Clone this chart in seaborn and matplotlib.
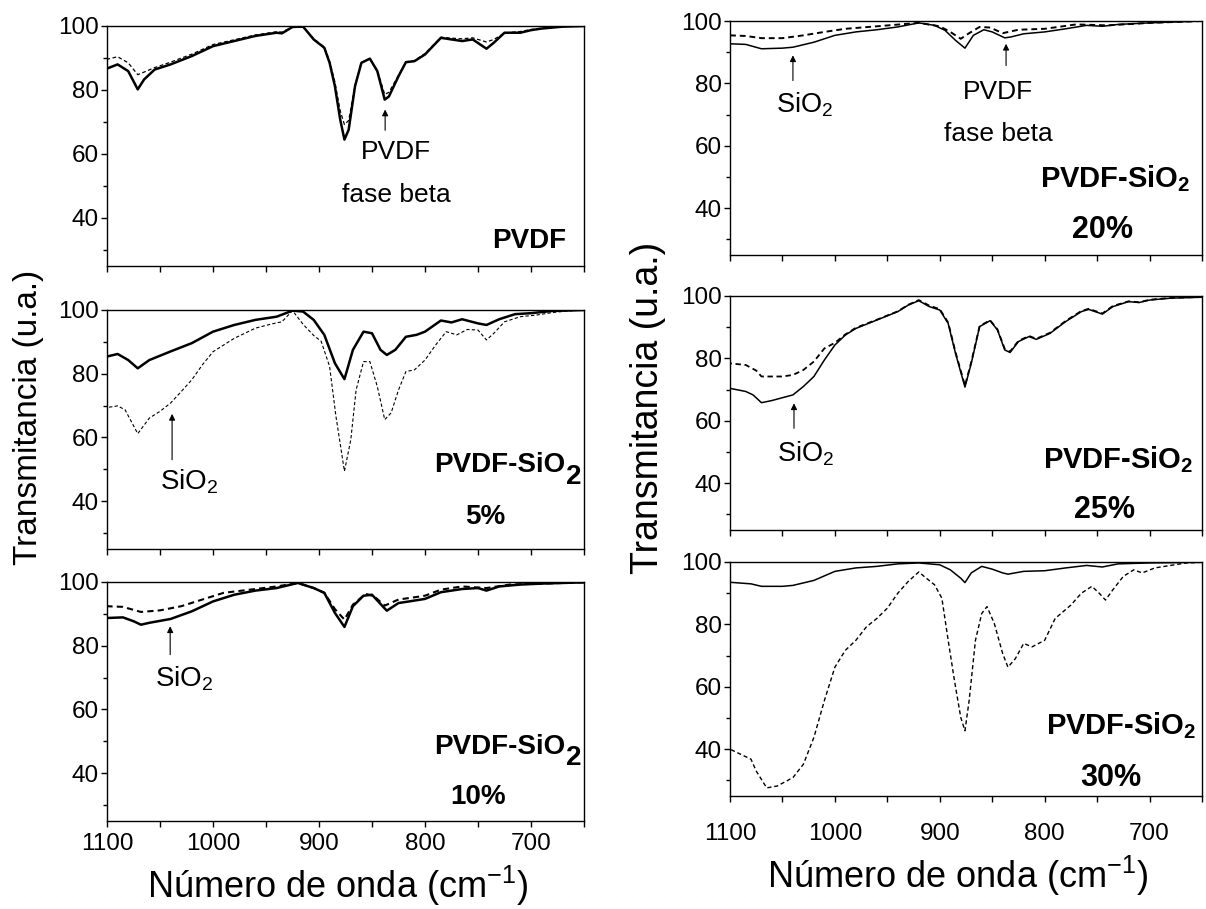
import matplotlib
matplotlib.use("Agg")
import matplotlib.pyplot as plt
import seaborn as sns
import pandas as pd
from matplotlib import font_manager
from matplotlib.ticker import MultipleLocator

# ---------------- data ----------------
pvdf_wn = [1100, 1090, 1080, 1071, 1065, 1055, 1040, 1020, 1000, 980, 960, 940, 935, 925, 915, 905,
           895, 890, 885, 880, 876, 872, 866, 860, 852, 845, 838, 834, 825, 818, 810, 800, 785, 775,
           765, 755, 742, 735, 725, 710, 700, 690, 670, 650]
pvdf_solid = [86.7, 88.0, 85.9, 80.2, 83.3, 86.4, 88.0, 90.6, 93.7, 95.3, 96.9, 97.9, 97.7, 99.7, 99.8,
              95.8, 93.2, 88.5, 81.2, 70.8, 64.5, 67.6, 81.2, 88.5, 89.8, 85.9, 77.0, 78.0, 84.3, 88.7,
              89.0, 91.1, 96.3, 95.8, 95.3, 95.8, 92.9, 94.8, 97.9, 97.9, 98.7, 99.2, 99.8, 100.0]
pvdf_dash = [89.6, 90.4, 88.5, 84.8, 85.6, 87.0, 88.7, 91.2, 94.2, 95.7, 97.2, 98.2, 98.1, 99.7, 99.8,
             96.0, 93.4, 89.0, 82.5, 73.5, 69.2, 70.5, 81.5, 88.6, 89.8, 86.2, 78.6, 79.3, 84.6, 88.8,
             89.2, 91.4, 96.5, 96.2, 96.0, 96.3, 95.0, 95.8, 97.8, 98.3, 98.9, 99.3, 99.8, 100.0]

p5_wn_solid = [1100, 1090, 1080, 1071, 1060, 1040, 1020, 1000, 980, 960, 940, 925, 915, 905, 895, 885,
               876, 868, 858, 850, 842, 836, 828, 818, 808, 800, 785, 775, 765, 750, 742, 730, 715,
               700, 680, 650]
p5_solid = [85.4, 86.2, 84.3, 81.7, 84.3, 87.0, 89.6, 93.2, 95.3, 96.9, 97.9, 99.8, 99.5, 96.9, 92.2,
            83.3, 78.3, 87.5, 93.2, 92.7, 87.5, 85.9, 87.5, 91.6, 92.2, 93.2, 96.7, 96.1, 97.1, 95.8,
            95.3, 97.1, 98.7, 99.0, 99.7, 100.0]
p5_wn_dash = [1100, 1090, 1083, 1071, 1060, 1050, 1040, 1030, 1020, 1010, 1000, 990, 980, 960, 945, 935,
              925, 915, 905, 898, 890, 884, 876, 870, 865, 858, 852, 845, 838, 832, 825, 818, 810, 800,
              790, 780, 770, 760, 750, 742, 735, 725, 710, 695, 680, 665, 650]
p5_dash = [69.4, 69.9, 68.7, 61.2, 66.1, 68.2, 70.8, 74.4, 78.1, 82.8, 86.9, 89.0, 91.1, 94.3, 95.6,
           96.3, 99.8, 95.5, 92.0, 90.2, 82.3, 66.6, 49.4, 59.3, 74.9, 83.8, 83.8, 76.0, 65.6, 67.7,
           74.9, 80.7, 81.2, 84.3, 89.0, 93.2, 92.2, 93.9, 93.7, 90.6, 92.7, 96.3, 97.9, 98.4, 99.2,
           99.7, 100.0]

p10_wn_solid = [1100, 1085, 1075, 1068, 1060, 1040, 1020, 1000, 980, 960, 940, 920, 905, 895, 885, 876,
                868, 858, 850, 840, 836, 825, 815, 800, 785, 765, 750, 742, 730, 710, 690, 650]
p10_solid = [88.7, 88.9, 87.7, 86.6, 87.2, 88.4, 90.8, 93.9, 96.0, 97.3, 98.1, 99.7, 98.1, 96.6, 90.3,
             85.9, 92.4, 95.7, 96.0, 92.4, 91.0, 93.4, 93.9, 94.7, 96.8, 97.8, 98.1, 97.3, 98.6, 99.2,
             99.5, 99.9]
p10_wn_dash = [1100, 1085, 1068, 1050, 1030, 1010, 990, 960, 940, 920, 905, 895, 885, 876, 868, 856, 848,
               838, 825, 810, 800, 785, 765, 742, 720, 650]
p10_dash = [92.4, 92.2, 90.6, 91.1, 92.4, 94.5, 96.6, 97.8, 98.6, 99.7, 98.1, 96.6, 91.5, 88.2, 92.9,
            96.3, 95.5, 92.6, 94.5, 95.2, 95.7, 97.6, 98.6, 98.1, 99.2, 99.9]

p20_wn_solid = [1100, 1085, 1070, 1050, 1040, 1020, 1000, 980, 960, 940, 920, 905, 895, 885, 876, 868,
                858, 850, 838, 832, 820, 800, 780, 760, 745, 730, 700, 650]
p20_solid = [92.7, 92.5, 91.1, 91.3, 91.6, 93.2, 95.4, 96.5, 97.2, 98.1, 99.4, 98.6, 97.0, 93.8, 91.3,
             95.4, 97.2, 96.5, 94.6, 94.9, 95.9, 96.5, 97.5, 98.6, 98.3, 98.9, 99.4, 100.0]
p20_wn_dash = [1100, 1085, 1070, 1050, 1030, 1010, 990, 960, 920, 900, 890, 880, 872, 862, 852, 840, 825,
               800, 770, 740, 700, 650]
p20_dash = [95.4, 95.2, 94.5, 94.5, 95.4, 96.5, 97.5, 98.3, 99.4, 98.3, 96.5, 94.3, 96.1, 98.1, 97.9,
            96.1, 97.2, 97.5, 98.9, 98.6, 99.4, 100.0]

p25_wn_solid = [1100, 1085, 1078, 1070, 1060, 1040, 1030, 1020, 1010, 1000, 990, 980, 960, 940, 930, 920,
                910, 900, 892, 885, 876, 870, 862, 852, 845, 838, 833, 825, 815, 808, 795, 780, 765,
                758, 745, 735, 720, 710, 700, 680, 650]
p25_solid = [70.4, 69.4, 68.3, 65.8, 66.5, 68.3, 71.0, 74.2, 79.5, 84.3, 87.5, 89.6, 92.3, 95.0, 97.1,
             98.5, 96.6, 95.5, 91.2, 81.6, 70.8, 78.4, 90.2, 92.1, 89.1, 82.7, 81.9, 85.4, 87.0, 86.1,
             88.0, 91.8, 95.0, 95.7, 94.2, 96.6, 98.2, 97.9, 98.7, 99.3, 99.6]
p25_wn_dash = [1100, 1085, 1075, 1070, 1050, 1040, 1030, 1020, 1010, 1000, 990, 980, 960, 940, 930, 920,
               910, 900, 892, 885, 876, 870, 862, 852, 845, 838, 833, 825, 815, 808, 795, 780, 765,
               758, 745, 735, 720, 710, 700, 680, 650]
p25_dash = [78.4, 77.9, 76.1, 74.2, 74.2, 74.7, 76.3, 79.0, 83.2, 85.0, 87.7, 89.8, 92.4, 95.1, 97.2,
            98.7, 96.9, 95.8, 91.5, 82.0, 71.3, 78.8, 90.4, 92.2, 89.3, 83.0, 82.2, 85.6, 87.2, 86.3,
            88.2, 92.0, 95.2, 95.9, 94.4, 96.8, 98.3, 98.0, 98.8, 99.4, 99.7]

p30_wn_solid = [1100, 1080, 1070, 1050, 1040, 1020, 1000, 980, 960, 940, 920, 900, 890, 880, 876, 870,
                860, 850, 840, 835, 820, 800, 780, 760, 745, 730, 700, 650]
p30_solid = [93.5, 93.0, 92.2, 92.2, 92.5, 94.1, 97.0, 98.1, 98.6, 99.4, 99.7, 99.1, 97.5, 94.8, 93.4,
             96.5, 98.6, 97.7, 96.5, 96.1, 97.0, 97.2, 98.1, 98.9, 98.4, 99.4, 99.7, 99.9]
p30_wn_dash = [1100, 1090, 1080, 1075, 1065, 1055, 1040, 1030, 1020, 1010, 1000, 990, 980, 970, 960, 950,
               940, 930, 920, 915, 905, 898, 892, 886, 880, 876, 872, 866, 860, 855, 848, 840, 835, 828,
               820, 812, 800, 790, 775, 765, 755, 748, 742, 735, 725, 715, 707, 695, 680, 665, 650]
p30_dash = [40.0, 38.4, 36.8, 33.0, 27.6, 28.2, 30.9, 35.2, 43.8, 55.6, 66.3, 71.7, 74.9, 79.2, 81.9,
            85.2, 90.0, 93.8, 96.8, 95.4, 92.7, 88.4, 74.9, 62.0, 50.2, 45.9, 55.6, 74.9, 83.5, 85.7,
            80.3, 70.6, 66.3, 69.0, 73.9, 72.8, 74.9, 81.9, 86.2, 90.0, 92.2, 90.0, 87.8, 91.1, 95.4,
            97.5, 96.5, 98.1, 98.9, 99.7, 99.9]

x_ticks = [1100, 1000, 900, 800, 700]
y_ticks = [40, 60, 80, 100]
x_label = "Número de onda (cm$^{-1}$)"
y_label = "Transmitancia (u.a.)"

# ---------------- style ----------------
sns.set_theme(style="ticks")
_names = {f.name for f in font_manager.fontManager.ttflist}
HAS_NARROW = "Liberation Sans Narrow" in _names
REG = ["Liberation Sans", "DejaVu Sans"]
NAR = (["Liberation Sans Narrow", "Liberation Sans", "DejaVu Sans"] if HAS_NARROW else REG)
NSC = 1.2 if HAS_NARROW else 1.0   # size factor for the narrow face

plt.rcParams["font.family"] = REG
plt.rcParams["mathtext.fontset"] = "custom"
plt.rcParams["mathtext.rm"] = "Liberation Sans"
plt.rcParams["mathtext.it"] = "Liberation Sans:italic"
plt.rcParams["mathtext.bf"] = "Liberation Sans:bold"
plt.rcParams["axes.edgecolor"] = "black"
plt.rcParams["axes.linewidth"] = 1.0
plt.rcParams["xtick.color"] = "black"
plt.rcParams["ytick.color"] = "black"
plt.rcParams["text.color"] = "black"

W, H = 1206, 909
fig = plt.figure(figsize=(W / 100, H / 100), dpi=100)


def box(x0, x1, y0, y1):
    return [x0 / W, 1 - y1 / H, (x1 - x0) / W, (y1 - y0) / H]


TICK_FS = 17.5 * (1.12 if HAS_NARROW else 1.0)


def make_panel(rect, wn_s, s, wn_d, d, lw_s, lw_d, show_x, xpad):
    ax = fig.add_axes(rect)
    sns.lineplot(x=wn_d, y=d, ax=ax, color="black", lw=lw_d, linestyle=(0, (3, 2)),
                 estimator=None, legend=False)
    sns.lineplot(x=wn_s, y=s, ax=ax, color="black", lw=lw_s, estimator=None, legend=False)
    ax.set_xlim(1100, 650)
    ax.set_ylim(25, 100)
    ax.set_xlabel("")
    ax.set_ylabel("")
    ax.set_xticks(x_ticks)
    ax.set_yticks(y_ticks)
    ax.xaxis.set_minor_locator(MultipleLocator(50))
    ax.yaxis.set_minor_locator(MultipleLocator(10))
    ax.tick_params(axis="x", which="both", direction="out", length=4.5, width=1.0,
                   top=False, bottom=True, labelsize=TICK_FS, pad=xpad, labelbottom=show_x)
    ax.tick_params(axis="y", which="major", direction="out", length=4.0, width=1.0,
                   right=False, left=True, labelsize=TICK_FS, pad=2)
    ax.tick_params(axis="y", which="minor", direction="out", length=3.0, width=1.0,
                   right=False, left=True)
    for lab in ax.get_xticklabels() + ax.get_yticklabels():
        lab.set_family(NAR)
    for sp in ax.spines.values():
        sp.set_linewidth(1.0)
        sp.set_color("black")
    return ax


ARW = dict(arrowstyle="-|>", color="black", lw=0.8, mutation_scale=9, shrinkA=0, shrinkB=0)


def arrow(ax, x, y_tail, y_tip):
    ax.annotate("", xy=(x, y_tip), xytext=(x, y_tail), arrowprops=ARW)


def sio2(ax, x, y, size):
    ax.text(x, y, "SiO$_2$", ha="left", va="baseline", fontsize=size)


def bold_big2(ax, x, y, size):
    t = ax.text(x, y, "PVDF-SiO", ha="left", va="baseline", fontsize=size, fontweight="bold")
    ax.annotate("2", xy=(1, 0), xycoords=t, xytext=(0.3, -4.0), textcoords="offset points",
                ha="left", va="baseline", fontsize=size, fontweight="bold")


# ---------------- left column ----------------
LX0, LX1 = 107, 584
ax1 = make_panel(box(LX0, LX1, 26, 266), pvdf_wn, pvdf_solid, pvdf_wn, pvdf_dash, 1.8, 0.9, False, 4)
arrow(ax1, 837.6, 67.4, 73.9)
ax1.text(827.5, 58.5, "PVDF", ha="center", va="baseline", fontsize=19)
ax1.text(826.7, 45.0, "fase beta", ha="center", va="baseline", fontsize=19)
ax1.text(666.8, 30.6, "PVDF", ha="right", va="baseline", fontsize=20, fontweight="bold")

ax2 = make_panel(box(LX0, LX1, 310, 549), p5_wn_solid, p5_solid, p5_wn_dash, p5_dash, 1.8, 0.8, False, 4)
arrow(ax2, 1038.6, 53.0, 67.4)
sio2(ax2, 1050.2, 43.8, 20)
bold_big2(ax2, 791.3, 49.1, 20)
ax2.text(762.5, 32.7, "5%", ha="left", va="baseline", fontsize=20, fontweight="bold")

ax3 = make_panel(box(LX0, LX1, 582, 821), p10_wn_solid, p10_solid, p10_wn_dash, p10_dash, 1.8, 1.5, True, 4)
arrow(ax3, 1040.4, 77.2, 86.1)
sio2(ax3, 1054.9, 67.3, 20)
bold_big2(ax3, 791.3, 46.1, 20)
ax3.text(775.8, 30.3, "10%", ha="left", va="baseline", fontsize=20, fontweight="bold")

# ---------------- right column ----------------
RX0, RX1 = 730, 1202
ax4 = make_panel(box(RX0, RX1, 21, 255), p20_wn_solid, p20_solid, p20_wn_dash, p20_dash, 1.1, 1.4, False, 15)
arrow(ax4, 1040, 80.9, 89.0)
sio2(ax4, 1056.6, 70.7, 19.5)
arrow(ax4, 836.8, 85.7, 92.7)
ax4.text(878.3, 75.0, "PVDF", ha="left", va="baseline", fontsize=19)
ax4.text(895.6, 61.6, "fase beta", ha="left", va="baseline", fontsize=19)
ax4.text(804, 46.6, "PVDF-SiO$_\\mathbf{2}$", ha="left", va="baseline", fontsize=21, fontweight="bold")
ax4.text(773.5, 30.5, "20%", ha="left", va="baseline", fontsize=22, fontweight="bold")

ax5 = make_panel(box(RX0, RX1, 296, 530), p25_wn_solid, p25_solid, p25_wn_dash, p25_dash, 1.1, 1.3, False, 15)
arrow(ax5, 1039, 57.6, 65.6)
sio2(ax5, 1054.8, 47.0, 19.5)
ax5.text(802, 44.8, "PVDF-SiO$_\\mathbf{2}$", ha="left", va="baseline", fontsize=21, fontweight="bold")
ax5.text(771.7, 28.8, "25%", ha="left", va="baseline", fontsize=22, fontweight="bold")

ax6 = make_panel(box(RX0, RX1, 562, 796), p30_wn_solid, p30_solid, p30_wn_dash, p30_dash, 1.1, 1.0, True, 15)
ax6.text(799, 44.8, "PVDF-SiO$_\\mathbf{2}$", ha="left", va="baseline", fontsize=21, fontweight="bold")
ax6.text(766, 28.2, "30%", ha="left", va="baseline", fontsize=22, fontweight="bold")

# ---------------- axis titles ----------------
fig.text(338 / W, 1 - 898 / H, x_label, ha="center", va="baseline", fontsize=26 * NSC, family=NAR)
fig.text(958 / W, 1 - 888 / H, x_label, ha="center", va="baseline", fontsize=26 * NSC, family=NAR)
fig.text(37 / W, 1 - 417 / H, y_label, rotation=90, rotation_mode="anchor",
         ha="center", va="baseline", fontsize=24)
fig.text(658 / W, 1 - 408 / H, y_label, rotation=90, rotation_mode="anchor",
         ha="center", va="baseline", fontsize=27)

fig.savefig("out.png", dpi=100, facecolor="white")
